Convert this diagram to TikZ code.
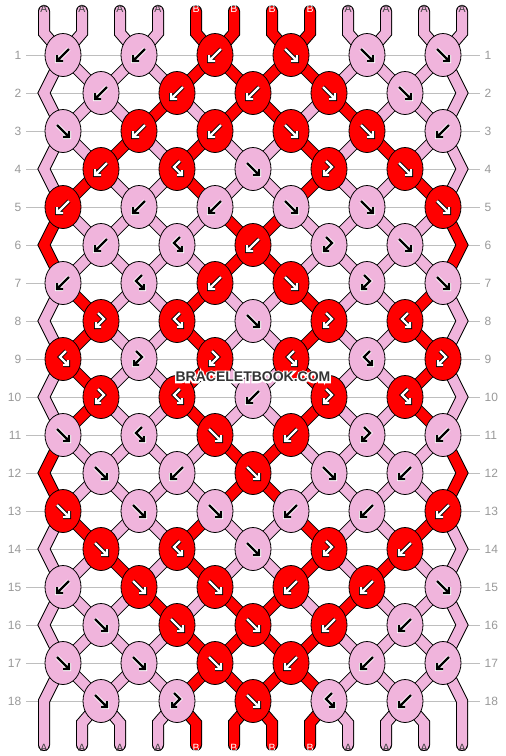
\documentclass[tikz,border=0pt]{standalone}
\usepackage{fontspec}
\setmainfont{Liberation Sans}
\usetikzlibrary{shapes.geometric}
\definecolor{pk}{HTML}{F0B4DC}
\definecolor{rd}{HTML}{FF0000}
\definecolor{gl}{HTML}{BEBEBE}
\definecolor{gt}{HTML}{999999}
\colorlet{ca}{pk}\colorlet{cb}{rd}
\colorlet{oa}{white}\colorlet{ia}{black}
\colorlet{ob}{black}\colorlet{ib}{white}
\colorlet{ta}{black!75}\colorlet{tb}{white}
\def\glyphF{(-6,-6)--(5,5) (6,0)--(6,6)--(0,6)}
\def\glyphB{(6,-6)--(-5,5) (-6,0)--(-6,6)--(0,6)}
\def\glyphFB{(-3,-8)--(3,-2)--(-4,5) (-5,1)--(-5,6)--(0,6)}
\def\glyphBF{(3,-8)--(-3,-2)--(4,5) (5,1)--(5,6)--(0,6)}
\def\segdata{1/{a,a,a,a,b,b,b,b,a,a,a,a},2/{a,a,a,b,a,b,b,a,b,a,a,a},3/{a,a,b,a,b,a,a,b,a,b,a,a},4/{a,b,a,a,b,a,a,b,a,a,b,a},5/{b,a,a,a,a,b,b,a,a,a,a,b},6/{b,a,a,a,a,b,b,a,a,a,a,b},7/{a,b,a,a,b,a,a,b,a,a,b,a},8/{a,b,a,a,b,a,a,b,a,a,b,a},9/{a,b,a,a,b,a,a,b,a,a,b,a},10/{a,b,a,a,b,a,a,b,a,a,b,a},11/{b,a,a,a,a,b,b,a,a,a,a,b},12/{b,a,a,a,a,b,b,a,a,a,a,b},13/{a,b,a,a,b,a,a,b,a,a,b,a},14/{a,a,b,a,b,a,a,b,a,b,a,a},15/{a,a,a,b,a,b,b,a,b,a,a,a},16/{a,a,a,a,b,b,b,b,a,a,a,a},17/{a,a,a,a,b,b,b,b,a,a,a,a}}
\def\knotdata{1/{a/B,a/B,b/B,b/F,a/F,a/F},2/{a/B,b/B,b/B,b/F,a/F},3/{a/F,b/B,b/B,b/F,b/F,a/B},4/{b/B,b/BF,a/F,b/FB,b/F},5/{b/B,a/B,a/B,a/F,a/F,b/F},6/{a/B,a/BF,b/B,a/FB,a/F},7/{a/B,a/BF,b/B,b/F,a/FB,a/F},8/{b/FB,b/BF,a/F,b/FB,b/BF},9/{b/BF,a/FB,b/FB,b/BF,a/BF,b/FB},10/{b/FB,b/BF,a/B,b/FB,b/BF},11/{a/F,a/BF,b/F,b/B,a/FB,a/B},12/{a/F,a/B,b/F,a/F,a/B},13/{b/F,a/F,a/F,a/B,a/B,b/B},14/{b/F,b/BF,a/F,b/FB,b/B},15/{a/B,b/F,b/F,b/B,b/B,a/F},16/{a/F,b/F,b/F,b/B,a/B},17/{a/F,a/F,b/F,b/B,a/B,a/B},18/{a/F,a/FB,b/F,a/BF,a/B}}
\def\enddata{1/a/A,2/a/A,3/a/A,4/a/A,5/b/B,6/b/B,7/b/B,8/b/B,9/a/A,10/a/A,11/a/A,12/a/A}
\newcommand\segpass[1]{%
  \foreach \r/\st in \segdata {%
    \pgfmathtruncatemacro\rr{\r+1}%
    \foreach \c [count=\p] in \st {%
      \ifnum\p>1 \ifnum\p<12
        \pgfmathtruncatemacro\ka{isodd(\r) ? (\p-1)/2 : (\p-2)/2}%
        \pgfmathtruncatemacro\kb{isodd(\rr) ? (\p-1)/2 : (\p-2)/2}%
        \draw[#1] (c\r-\ka) -- (c\rr-\kb);
      \fi\fi
    }%
  }%
  \foreach \r/\c in {2/a,4/a,6/b,8/a,10/a,12/b,14/a,16/a}{%
    \pgfmathtruncatemacro\ra{\r-1}\pgfmathtruncatemacro\rb{\r+1}%
    \draw[#1] (c\ra-0) -- (eL\r) -- (c\rb-0);
    \draw[#1] (c\ra-5) -- (eR\r) -- (c\rb-5);
  }%
  \foreach \i/\c/\L in \enddata {%
    \pgfmathtruncatemacro\kt{(\i-1)/2}%
    \draw[#1, line cap=round] (t\i) -- (tb\i) -- (c1-\kt);
    \ifnum\i=1 \draw[#1, line cap=round] (c17-0) -- (eL18) -- (b\i);
    \else\ifnum\i=12 \draw[#1, line cap=round] (c17-5) -- (eR18) -- (b\i);
    \else
      \pgfmathtruncatemacro\kd{(\i-2)/2}%
      \draw[#1, line cap=round] (c18-\kd) -- (bb\i) -- (b\i);
    \fi\fi
  }%
}
\newcommand\halotext[1]{\rlap{\special{pdf:literal direct 2 Tr 3 w 1 1 1 RG 1 1 1 rg}#1\special{pdf:literal direct 0 Tr 1 w 0 0 0 RG}}\textcolor{black!80}{#1}}
\begin{document}
\begin{tikzpicture}[x=1pt,y=-1pt,
  rowlab/.style={text=gt, font=\fontsize{12}{12}\selectfont, inner sep=0},
  knot/.style={ellipse, draw=black, line width=0.8, minimum width=36, minimum height=43, inner sep=0},
  strout/.style={draw=black, line width=12, line join=miter},
  strin/.style={line width=10, line join=miter},
  endlab/.style={font=\fontsize{10.5}{10.5}\selectfont, inner sep=0},
]
\useasboundingbox[fill=white] (0,0) rectangle (506,756);
% rows
\foreach \r in {1,...,18}{
  \pgfmathsetmacro\y{55+38*(\r-1)}
  \draw[gl, line width=1] (26,\y) -- (480,\y);
  \node[rowlab, anchor=east] (L\r) at (21.5,\y) {\r};
  \node[rowlab, anchor=west] (R\r) at (484.5,\y) {\r};
  \ifodd\r
    \foreach \k in {0,...,5}{\coordinate (c\r-\k) at ({63+76*\k},\y);}
  \else
    \foreach \k in {0,...,4}{\coordinate (c\r-\k) at ({101+76*\k},\y);}
    \coordinate (eL\r) at (44,\y);
    \coordinate (eR\r) at (462,\y);
  \fi
}
\foreach \i in {1,...,12}{
  \pgfmathsetmacro\xs{44+38*(\i-1)}
  \coordinate (t\i) at (\xs,11);
  \coordinate (tb\i) at (\xs,33);
  \coordinate (bb\i) at (\xs,723);
  \coordinate (b\i) at (\xs,745);
}
% strings
\segpass{strout}
\segpass{strin, draw=c\c}
% end labels
\foreach \i/\c/\L in \enddata {
  \node[endlab, text=t\c] (lt\i) at ([yshift=2]t\i) {\L};
  \node[endlab, text=t\c] (lb\i) at ([yshift=-3]b\i) {\L};
}
% knots
\foreach \r/\kl in \knotdata {
  \foreach \c/\t [count=\k from 0] in \kl {
    \node[knot, fill=c\c] (k\r-\k) at (c\r-\k) {};
    \expandafter\let\expandafter\gl\csname glyph\t\endcsname
    \begin{scope}[shift={(c\r-\k)}]
      \path[draw=o\c, line width=4, line cap=square, line join=miter] \gl;
      \path[draw=i\c, line width=2.2, line join=miter] \gl;
    \end{scope}
  }
}
% watermark
\node[font=\bfseries\fontsize{14}{14}\selectfont, inner sep=0] (wm) at (253,377) {\halotext{BRACELETBOOK.COM}};
\end{tikzpicture}
\end{document}
